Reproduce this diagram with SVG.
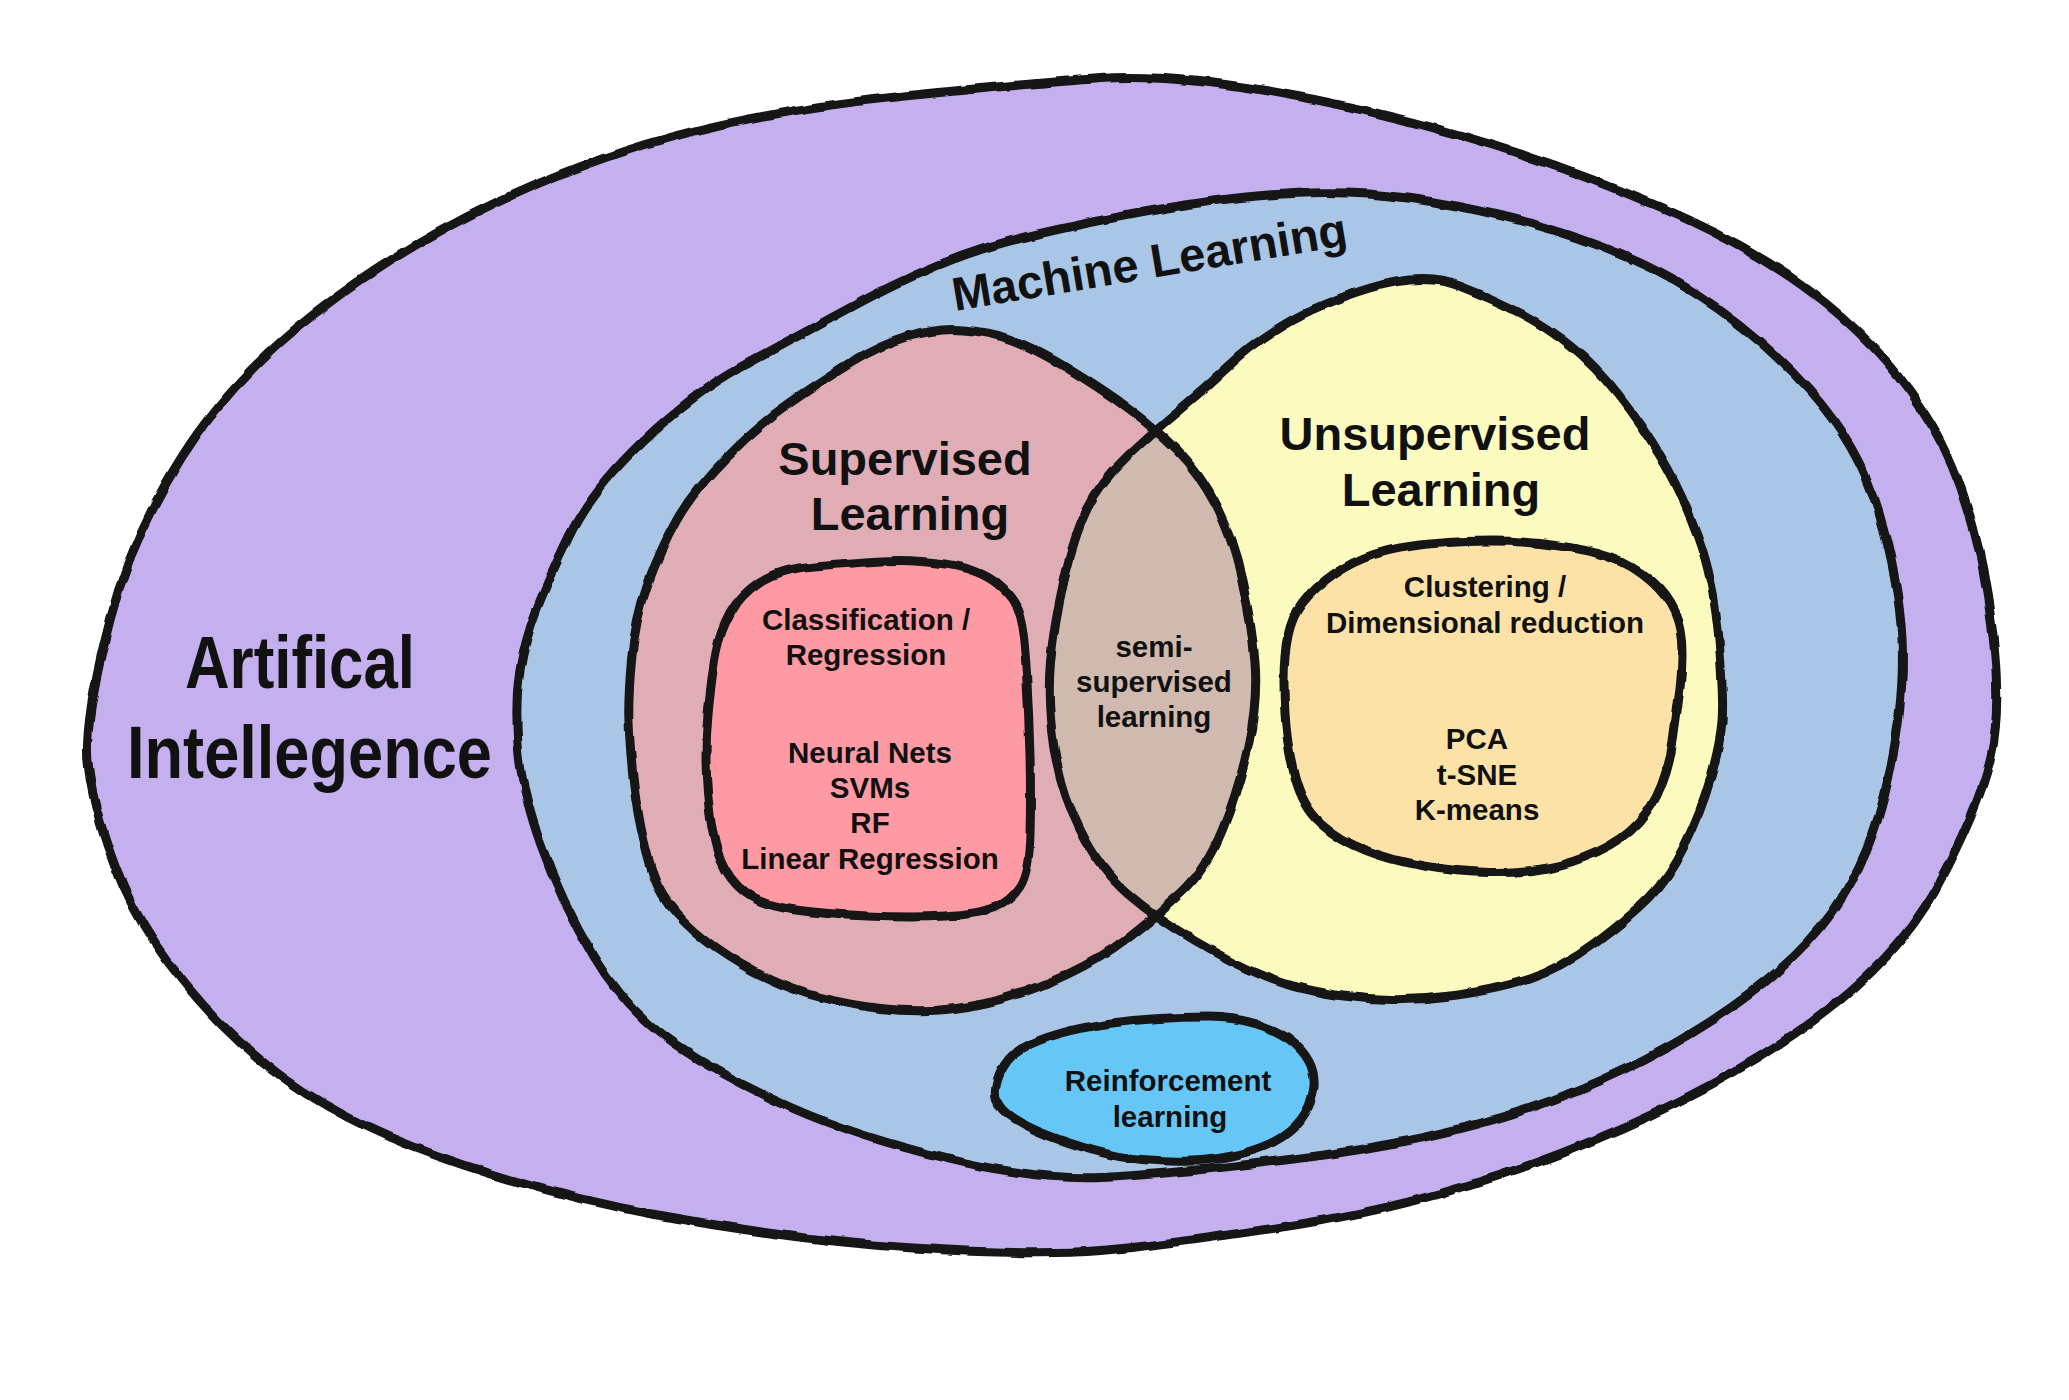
<svg xmlns="http://www.w3.org/2000/svg" xmlns:xlink="http://www.w3.org/1999/xlink" width="2069" height="1400" viewBox="0 0 2069 1400">
<style>
.shape{stroke:#141414;stroke-width:9;stroke-linejoin:round;filter:url(#rough)}
.line{fill:none;stroke:#141414;stroke-width:9;stroke-linejoin:round;filter:url(#rough)}
.t{font-family:"Liberation Sans",Arial,sans-serif;font-weight:bold;fill:#111;text-anchor:middle}
.big{font-size:47px}
.small{font-size:29.5px}
.ai{font-size:74px;text-anchor:start}
</style>
<defs>
<filter id="rough" filterUnits="userSpaceOnUse" x="0" y="0" width="2069" height="1400">
<feTurbulence type="fractalNoise" baseFrequency="0.035" numOctaves="2" seed="4" result="n"/>
<feDisplacementMap in="SourceGraphic" in2="n" scale="5" xChannelSelector="R" yChannelSelector="G"/>
</filter>
<path id="supP" d="M 629,722.5 Q 628,700 631.5,660 Q 635,620 647.5,585 Q 660,550 676.5,520.5 Q 693,491 726,457.5 Q 759,424 792,401.5 Q 825,379 852.5,362 Q 880,345 908.5,336.5 Q 937,328 963.5,330 Q 990,332 1012,340 Q 1034,348 1067,368 Q 1100,388 1128,408.5 Q 1156,429 1177.5,451 Q 1199,473 1215.5,504.5 Q 1232,536 1242,580.5 Q 1252,625 1255,662.5 Q 1258,700 1248.5,744.5 Q 1239,789 1222.5,829.5 Q 1206,870 1181,893 Q 1156,916 1128,937.5 Q 1100,959 1067,974.5 Q 1034,990 1002,999 Q 970,1008 940.5,1010 Q 911,1012 880.5,1008.5 Q 850,1005 821,997.5 Q 792,990 766,977.5 Q 740,965 716.5,948.5 Q 693,932 676.5,913.5 Q 660,895 653.5,875.5 Q 647,856 641,828 Q 635,800 632.5,772.5 Q 630,745 629,722.5 Z"/>
<path id="unsP" d="M 1370.5,288 Q 1423,272 1459.5,286 Q 1496,300 1522,314 Q 1548,328 1571.5,347 Q 1595,366 1618,395 Q 1641,424 1661,457.5 Q 1681,491 1697.5,535.5 Q 1714,580 1719,640 Q 1724,700 1722,722.5 Q 1720,745 1710.5,778.5 Q 1701,812 1684.5,845.5 Q 1668,879 1648,899 Q 1628,919 1595,943.5 Q 1562,968 1529,979 Q 1496,990 1446.5,996.5 Q 1397,1003 1347.5,996.5 Q 1298,990 1265,976.5 Q 1232,963 1194,940.5 Q 1156,918 1128,894 Q 1100,870 1080,829.5 Q 1060,789 1053.5,744.5 Q 1047,700 1050.5,662.5 Q 1054,625 1064,580.5 Q 1074,536 1087,509 Q 1100,482 1128,455.5 Q 1156,429 1181,408.5 Q 1206,388 1229,366 Q 1252,344 1285,324 Q 1318,304 1370.5,288 Z"/>
<clipPath id="clipSup"><use xlink:href="#supP" href="#supP"/></clipPath>
</defs>
<rect x="0" y="0" width="2069" height="1400" fill="#ffffff"/>

<g id="ai">
<path class="shape" fill="#c4b0ee" stroke-width="8" d="M 87.5,744.5 Q 89,700 110.5,618 Q 132,536 181.5,457.5 Q 231,379 313.5,314.5 Q 396,250 495,203 Q 594,156 693,131.5 Q 792,107 913.5,95 Q 1035,83 1100.5,78.5 Q 1166,74 1265,90.5 Q 1364,107 1463,136 Q 1562,165 1661,207.5 Q 1760,250 1826,303.5 Q 1892,357 1931.5,424 Q 1971,491 1987.5,595.5 Q 2004,700 1991,756 Q 1978,812 1935,890 Q 1892,968 1793,1035 Q 1694,1102 1562,1153 Q 1430,1204 1298,1224.5 Q 1166,1245 1100.5,1250.5 Q 1035,1256 913.5,1248 Q 792,1240 660,1215.5 Q 528,1191 412.5,1146.5 Q 297,1102 221,1024 Q 145,946 115.5,867.5 Q 86,789 87.5,744.5 Z"/>
<text class="t ai" x="185" y="688" textLength="230" lengthAdjust="spacingAndGlyphs">Artifical</text>
<text class="t ai" x="127" y="778" textLength="365" lengthAdjust="spacingAndGlyphs">Intellegence</text>
</g>

<g id="ml">
<path class="shape" fill="#a9c6e7" d="M 518,744.5 Q 515,700 520,670 Q 525,640 536.5,610 Q 548,580 569.5,535.5 Q 591,491 642,442 Q 693,393 742.5,366 Q 792,339 858,303.5 Q 924,268 979.5,250 Q 1035,232 1150,211 Q 1265,190 1347.5,193 Q 1430,196 1529,223 Q 1628,250 1694,292.5 Q 1760,335 1809.5,390.5 Q 1859,446 1879,513 Q 1899,580 1902,640 Q 1905,700 1888.5,778 Q 1872,856 1832.5,912 Q 1793,968 1710.5,1021.5 Q 1628,1075 1529,1108.5 Q 1430,1142 1298,1158.5 Q 1166,1175 1100.5,1177.5 Q 1035,1180 946.5,1158.5 Q 858,1137 792,1108 Q 726,1079 676.5,1045.5 Q 627,1012 594,956.5 Q 561,901 541,845 Q 521,789 518,744.5 Z"/>
<text class="t big" x="1152" y="278" transform="rotate(-9.5 1152 278)">Machine Learning</text>
</g>

<g id="supervised">
<use xlink:href="#supP" href="#supP" fill="#e0adb7" style="filter:url(#rough)"/>
<text class="t big" x="905" y="475">Supervised</text>
<text class="t big" x="910" y="530">Learning</text>
</g>

<g id="unsupervised">
<use xlink:href="#unsP" href="#unsP" fill="#fbfbc0" style="filter:url(#rough)"/>
<text class="t big" x="1435" y="450">Unsupervised</text>
<text class="t big" x="1441" y="506">Learning</text>
</g>

<g id="semi-supervised">
<g clip-path="url(#clipSup)"><use xlink:href="#unsP" href="#unsP" fill="#d0b9ae" style="filter:url(#rough)"/></g>
<use xlink:href="#supP" href="#supP" class="line"/>
<use xlink:href="#unsP" href="#unsP" class="line"/>
<text class="t small" x="1154" y="657">semi-</text>
<text class="t small" x="1154" y="692">supervised</text>
<text class="t small" x="1154" y="727">learning</text>
</g>

<g id="classification">
<path class="shape" fill="#fe9aa4" d="M 759.5,582 Q 779,569 814.5,566 Q 850,563 881,561 Q 912,559 945.5,564 Q 979,569 997,583.5 Q 1015,598 1019.5,615 Q 1024,632 1026.5,673.5 Q 1029,715 1030,756 Q 1031,797 1030,834.5 Q 1029,872 1020,886.5 Q 1011,901 995,907.5 Q 979,914 945.5,916 Q 912,918 867.5,916 Q 823,914 792,909.5 Q 761,905 745,892.5 Q 729,880 720.5,859.5 Q 712,839 708,797.5 Q 704,756 708,714.5 Q 712,673 716,652.5 Q 720,632 730,613.5 Q 740,595 759.5,582 Z"/>
<text class="t small" x="866" y="630">Classification /</text>
<text class="t small" x="866" y="665">Regression</text>
<text class="t small" x="870" y="763">Neural Nets</text>
<text class="t small" x="870" y="798">SVMs</text>
<text class="t small" x="870" y="833">RF</text>
<text class="t small" x="870" y="869">Linear Regression</text>
</g>

<g id="clustering">
<path class="shape" fill="#fde2a8" d="M 1353,563 Q 1373,553 1400,548 Q 1427,543 1467,541.5 Q 1507,540 1540,543.5 Q 1573,547 1598,553.5 Q 1623,560 1641.5,573.5 Q 1660,587 1670,603.5 Q 1680,620 1681.5,641.5 Q 1683,663 1680,688 Q 1677,713 1673.5,738 Q 1670,763 1661.5,785 Q 1653,807 1638,823.5 Q 1623,840 1598,851.5 Q 1573,863 1548,868 Q 1523,873 1490,872.5 Q 1457,872 1423.5,866 Q 1390,860 1365,850 Q 1340,840 1321.5,823.5 Q 1303,807 1295,777 Q 1287,747 1285,713.5 Q 1283,680 1285,656.5 Q 1287,633 1293.5,618 Q 1300,603 1316.5,588 Q 1333,573 1353,563 Z"/>
<text class="t small" x="1485" y="597">Clustering /</text>
<text class="t small" x="1485" y="633">Dimensional reduction</text>
<text class="t small" x="1477" y="749">PCA</text>
<text class="t small" x="1477" y="785">t-SNE</text>
<text class="t small" x="1477" y="820">K-means</text>
</g>

<g id="reinforcement">
<path class="shape" fill="#66c7f6" d="M 996.5,1100 Q 993,1090 1000,1073.5 Q 1007,1057 1022,1048.5 Q 1037,1040 1060,1033.5 Q 1083,1027 1108,1023.5 Q 1133,1020 1158,1018.5 Q 1183,1017 1208,1017 Q 1233,1017 1255,1023.5 Q 1277,1030 1290,1040 Q 1303,1050 1309,1061.5 Q 1315,1073 1314,1086.5 Q 1313,1100 1305,1113.5 Q 1297,1127 1282,1137 Q 1267,1147 1242,1153.5 Q 1217,1160 1192,1161 Q 1167,1162 1142,1159.5 Q 1117,1157 1092,1150 Q 1067,1143 1047,1135 Q 1027,1127 1013.5,1118.5 Q 1000,1110 996.5,1100 Z"/>
<text class="t small" x="1168" y="1091">Reinforcement</text>
<text class="t small" x="1170" y="1127">learning</text>
</g>
</svg>
